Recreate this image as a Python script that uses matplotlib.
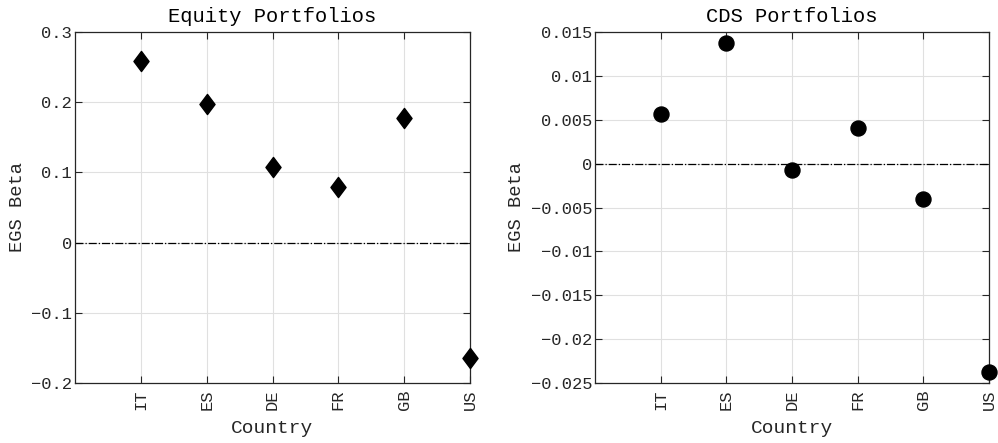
import numpy as np
import matplotlib
matplotlib.use("Agg")
import matplotlib.pyplot as plt
from matplotlib.path import Path

# data
countries = ["IT", "ES", "DE", "FR", "GB", "US"]
equity_beta = [0.258, 0.198, 0.107, 0.079, 0.177, -0.164]
cds_beta = [0.0057, 0.0137, -0.0007, 0.0041, -0.0040, -0.0238]

plt.rcParams['font.family'] = ['Liberation Mono', 'DejaVu Sans Mono']

axcol = '#262626'
gridcol = '#e0e0e0'

# MATLAB-ish diamond (a bit wider than mpl's thin diamond)
diamond = Path([(0, 1), (0.75, 0), (0, -1), (-0.75, 0), (0, 1)],
               [Path.MOVETO, Path.LINETO, Path.LINETO, Path.LINETO, Path.CLOSEPOLY])

fig = plt.figure(figsize=(9.98, 4.43), dpi=100)
ax1 = fig.add_axes([75 / 998, 1 - 383 / 443, 395 / 998, 351 / 443])
ax2 = fig.add_axes([595 / 998, 1 - 383 / 443, 394 / 998, 351 / 443])

x = np.arange(1, len(countries) + 1)


def style(ax, title, ylim, yticks, yticklabels):
    ax.set_xlim(0, len(countries))
    ax.set_ylim(*ylim)
    ax.set_xticks(x)
    ax.set_xticklabels(countries, rotation=90)
    ax.set_yticks(yticks)
    ax.set_yticklabels(yticklabels)
    ax.grid(True, color=gridcol, linewidth=0.8)
    ax.set_axisbelow(True)
    ax.axhline(0, color='black', linestyle='-.', linewidth=0.9, zorder=2)
    ax.tick_params(direction='in', top=True, right=True, length=5, width=0.8,
                   colors=axcol, labelsize=12.3)
    ax.tick_params(axis='x', pad=5)
    ax.tick_params(axis='y', pad=2)
    for s in ax.spines.values():
        s.set_color(axcol)
        s.set_linewidth(0.9)
    ax.set_title(title, fontsize=14.8, color='black', pad=7)
    ax.set_xlabel("Country", fontsize=14, color=axcol, labelpad=7)
    ax.set_ylabel("EGS Beta", fontsize=13.5, color=axcol, labelpad=4)


ax1.plot(x, equity_beta, linestyle='none', marker=diamond, markersize=14.5,
         color='black', clip_on=False, zorder=3)
style(ax1, "Equity Portfolios", (-0.2, 0.3),
      [-0.2, -0.1, 0, 0.1, 0.2, 0.3],
      ["\u22120.2", "\u22120.1", "0", "0.1", "0.2", "0.3"])

ax2.plot(x, cds_beta, linestyle='none', marker='o', markersize=10.8,
         color='black', clip_on=False, zorder=3)
style(ax2, "CDS Portfolios", (-0.025, 0.015),
      [-0.025, -0.02, -0.015, -0.01, -0.005, 0, 0.005, 0.01, 0.015],
      ["\u22120.025", "\u22120.02", "\u22120.015", "\u22120.01", "\u22120.005",
       "0", "0.005", "0.01", "0.015"])

fig.savefig("out.png", dpi=100)
